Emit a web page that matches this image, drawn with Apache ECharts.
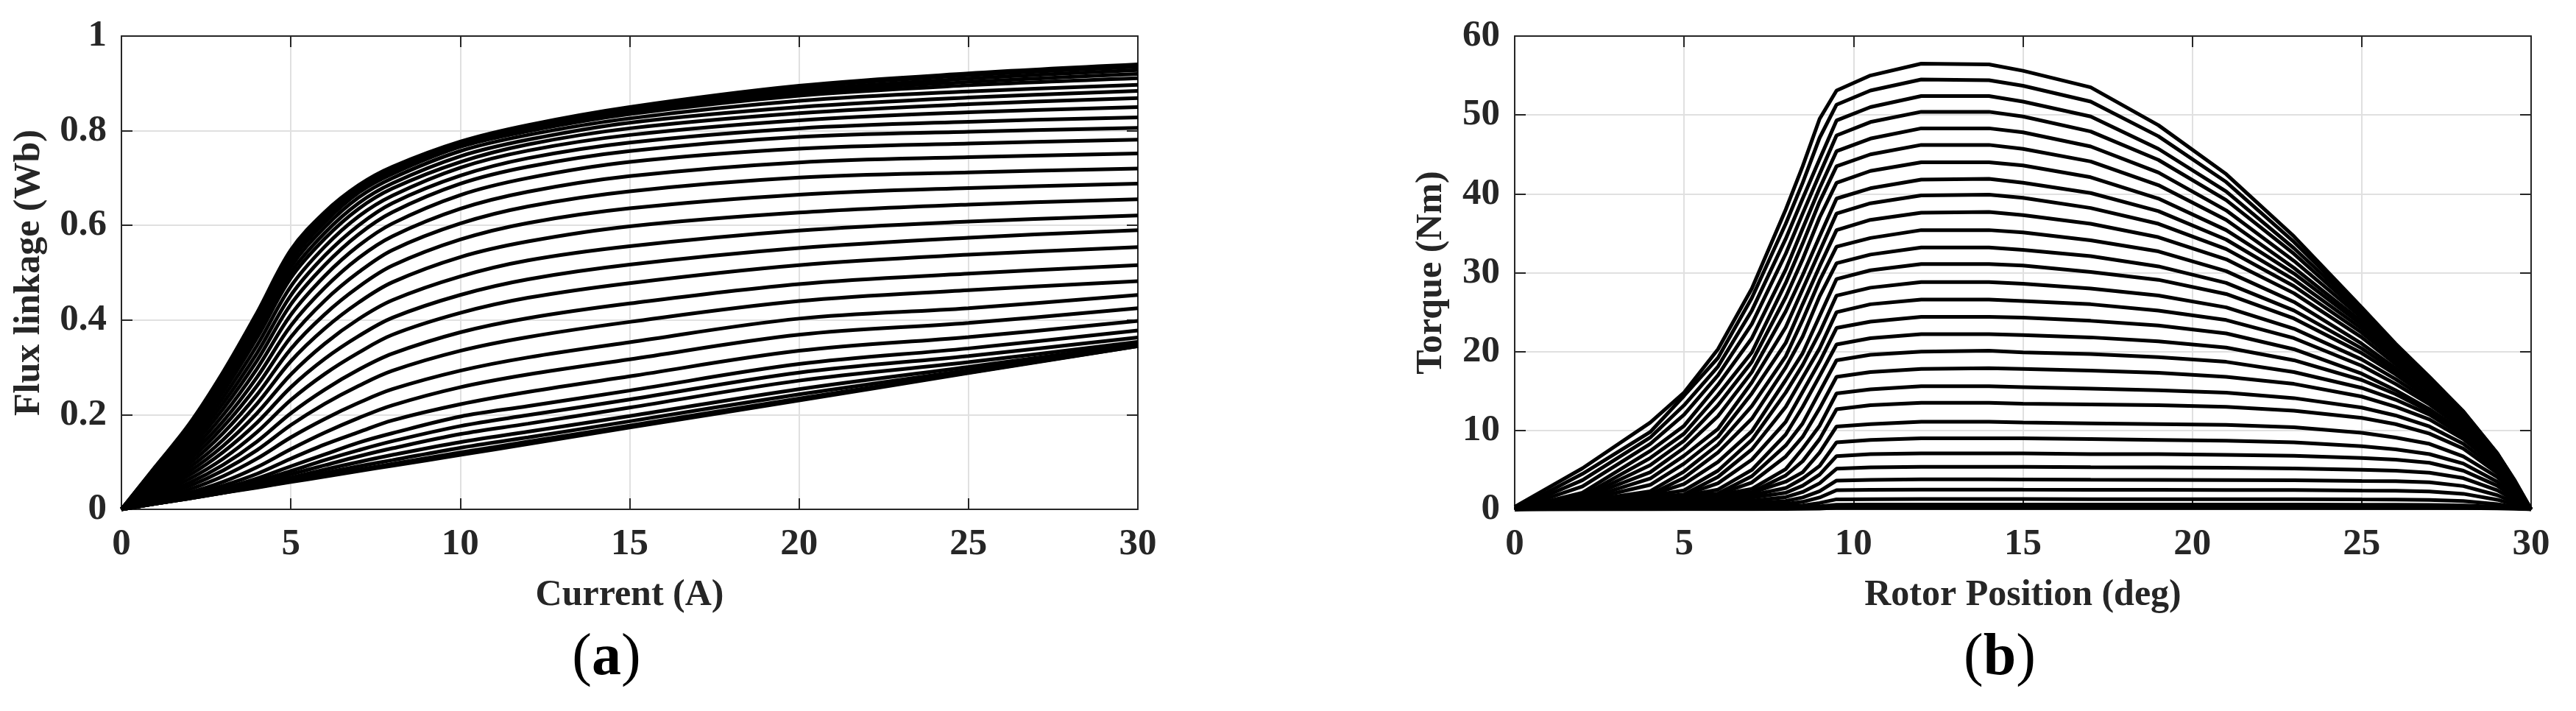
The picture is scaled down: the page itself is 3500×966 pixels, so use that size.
<!DOCTYPE html>
<html><head><meta charset="utf-8">
<script src="https://cdn.jsdelivr.net/npm/echarts@6.0.0/dist/echarts.min.js"></script>
<style>html,body{margin:0;padding:0;background:#fff}#c{width:3500px;height:966px}</style>
</head><body><div id="c"></div>
<script>
// ---------- Panel (a): flux linkage vs current, one curve per rotor angle 0..30 deg ----------
const currentA = [0, 1, 2, 3, 4, 5, 6, 7, 8, 10, 12, 15, 20, 25, 30];
const rotorAnglesA = [0,1,2,3,4,5,6,7,8,9,10,11,12,13,14,15,16,17,18,19,20,21,22,23,24,25,26,27,28,29,30];
const fluxByAngle = [
  [0, .012, .023, .035, .046, .058, .069, .081, .092, .115, .138, .173, .230, .288, .345],
  [0, .012, .023, .035, .047, .059, .072, .084, .096, .120, .143, .177, .234, .289, .345],
  [0, .012, .023, .035, .049, .063, .077, .091, .104, .130, .152, .186, .243, .294, .346],
  [0, .012, .024, .037, .051, .067, .084, .100, .115, .142, .164, .197, .254, .301, .349],
  [0, .012, .024, .038, .054, .074, .093, .112, .129, .159, .181, .215, .272, .311, .354],
  [0, .013, .025, .040, .059, .081, .104, .125, .144, .176, .199, .232, .289, .324, .363],
  [0, .014, .027, .044, .065, .091, .116, .141, .161, .196, .218, .251, .307, .340, .378],
  [0, .015, .030, .050, .075, .107, .137, .163, .188, .222, .248, .281, .335, .364, .398],
  [0, .018, .035, .058, .089, .127, .162, .193, .220, .258, .285, .317, .369, .394, .425],
  [0, .021, .042, .070, .107, .152, .191, .225, .254, .293, .321, .353, .403, .425, .453],
  [0, .025, .049, .082, .125, .178, .223, .261, .293, .335, .364, .396, .440, .463, .482],
  [0, .028, .056, .094, .143, .203, .253, .295, .329, .374, .404, .435, .476, .498, .516],
  [0, .032, .064, .107, .163, .231, .286, .331, .369, .415, .447, .478, .516, .538, .554],
  [0, .036, .072, .121, .183, .258, .318, .366, .405, .453, .486, .517, .552, .574, .590],
  [0, .040, .080, .134, .203, .285, .350, .402, .442, .492, .526, .556, .589, .608, .621],
  [0, .044, .088, .147, .223, .313, .382, .437, .480, .533, .566, .598, .627, .644, .655],
  [0, .048, .096, .161, .242, .339, .412, .470, .515, .570, .605, .636, .665, .679, .688],
  [0, .052, .104, .174, .261, .364, .441, .501, .548, .604, .640, .672, .701, .712, .720],
  [0, .056, .112, .186, .279, .388, .468, .531, .577, .635, .671, .704, .733, .744, .752],
  [0, .060, .120, .199, .297, .411, .493, .557, .604, .664, .700, .734, .762, .773, .781],
  [0, .064, .128, .212, .314, .433, .516, .581, .628, .688, .724, .757, .787, .798, .806],
  [0, .068, .136, .224, .330, .452, .536, .600, .647, .705, .742, .775, .805, .819, .828],
  [0, .072, .144, .236, .346, .471, .555, .619, .663, .722, .758, .791, .822, .839, .850],
  [0, .076, .152, .248, .362, .489, .572, .635, .678, .734, .771, .805, .837, .856, .869],
  [0, .078, .156, .254, .370, .500, .584, .647, .689, .746, .781, .817, .850, .870, .884],
  [0, .081, .161, .262, .380, .512, .596, .659, .700, .757, .791, .826, .863, .883, .897],
  [0, .083, .166, .270, .390, .523, .606, .669, .709, .766, .799, .835, .874, .896, .911],
  [0, .085, .170, .275, .397, .530, .613, .675, .713, .769, .802, .838, .879, .903, .920],
  [0, .087, .174, .281, .404, .538, .619, .680, .717, .772, .805, .842, .885, .910, .928],
  [0, .089, .177, .286, .409, .544, .623, .682, .720, .774, .808, .846, .891, .917, .935],
  [0, .090, .180, .290, .415, .548, .628, .685, .724, .777, .812, .850, .895, .921, .940]
];

// ---------- Panel (b): torque vs rotor position, one curve per current 1..30 A ----------
const positionDeg = [0, 2, 4, 5, 6, 7, 8, 8.5, 9, 9.5, 10.5, 12, 14, 15, 17, 19, 21, 23, 25, 26, 27, 28, 29, 29.5, 30];
const currentsB = [1,2,3,4,5,6,7,8,9,10,11,12,13,14,15,16,17,18,19,20,21,22,23,24,25,26,27,28,29,30];
const torqueByCurrent = [
  [0, 0.01, 0.01, 0.02, 0.02, 0.03, 0.04, 0.06, 0.1, 0.2, 0.2, 0.2, 0.2, 0.2, 0.2, 0.2, 0.2, 0.2, 0.19, 0.19, 0.19, 0.17, 0.11, 0.06, 0],
  [0, 0.02, 0.05, 0.07, 0.09, 0.12, 0.17, 0.23, 0.37, 0.59, 0.6, 0.6, 0.6, 0.6, 0.6, 0.6, 0.6, 0.6, 0.58, 0.58, 0.57, 0.5, 0.32, 0.17, 0],
  [0, 0.05, 0.11, 0.15, 0.2, 0.28, 0.38, 0.5, 0.8, 1.27, 1.29, 1.3, 1.3, 1.3, 1.29, 1.29, 1.29, 1.28, 1.25, 1.24, 1.2, 1.04, 0.66, 0.34, 0],
  [0, 0.09, 0.2, 0.26, 0.36, 0.5, 0.68, 0.95, 1.5, 2.42, 2.47, 2.5, 2.5, 2.49, 2.48, 2.47, 2.46, 2.44, 2.38, 2.36, 2.27, 1.97, 1.22, 0.62, 0],
  [0, 0.14, 0.31, 0.41, 0.56, 0.77, 1.06, 1.5, 2.3, 3.65, 3.74, 3.8, 3.8, 3.79, 3.76, 3.74, 3.72, 3.69, 3.6, 3.56, 3.42, 2.95, 1.8, 0.9, 0],
  [0, 0.21, 0.44, 0.59, 0.81, 1.1, 1.55, 2.2, 3.3, 5.15, 5.31, 5.4, 5.4, 5.38, 5.34, 5.31, 5.27, 5.19, 5.02, 4.91, 4.65, 3.96, 2.41, 1.2, 0],
  [0, 0.28, 0.6, 0.81, 1.1, 1.5, 2.1, 3.0, 4.4, 6.75, 7.0, 7.1, 7.1, 7.1, 7.0, 7.0, 6.9, 6.8, 6.5, 6.3, 5.9, 4.9, 3.0, 1.5, 0],
  [0, 0.37, 0.78, 1.05, 1.44, 1.8, 2.7, 3.9, 5.5, 8.5, 8.8, 9.0, 9.0, 9.0, 8.9, 8.8, 8.7, 8.5, 8.0, 7.6, 7.0, 5.8, 3.5, 1.8, 0],
  [0, 0.5, 1.1, 1.4, 1.6, 2.1, 3.5, 4.7, 7.2, 10.5, 10.8, 11.1, 11.1, 11.0, 10.9, 10.8, 10.7, 10.4, 9.7, 9.1, 8.3, 6.7, 4.1, 2.0, 0],
  [0, 0.6, 1.1, 1.4, 1.7, 2.2, 4.3, 6.1, 8.9, 12.7, 13.2, 13.5, 13.5, 13.4, 13.3, 13.2, 13.0, 12.5, 11.6, 10.8, 9.6, 7.7, 4.6, 2.3, 0],
  [0, 0.6, 1.2, 1.5, 1.8, 2.6, 5.1, 7.7, 10.6, 14.7, 15.2, 15.6, 15.6, 15.5, 15.3, 15.1, 14.8, 14.1, 12.9, 11.9, 10.5, 8.3, 5.0, 2.5, 0],
  [0, 0.6, 1.2, 1.6, 1.9, 3.4, 6.7, 9.2, 12.8, 16.8, 17.4, 17.8, 17.9, 17.8, 17.6, 17.3, 16.8, 15.9, 14.3, 13.0, 11.4, 8.9, 5.4, 2.7, 0],
  [0, 0.7, 1.3, 1.6, 2.0, 4.2, 8.1, 10.9, 14.9, 18.9, 19.6, 20.0, 20.1, 19.9, 19.7, 19.3, 18.7, 17.4, 15.4, 13.9, 12.0, 9.3, 5.6, 2.8, 0],
  [0, 0.7, 1.4, 1.7, 2.5, 5.0, 9.5, 13.0, 16.9, 20.9, 21.7, 22.2, 22.2, 22.1, 21.8, 21.3, 20.5, 18.9, 16.4, 14.6, 12.4, 9.6, 5.8, 2.9, 0],
  [0, 0.7, 1.5, 1.8, 3.3, 6.3, 11.1, 14.9, 18.7, 23.0, 23.8, 24.4, 24.4, 24.3, 23.9, 23.3, 22.3, 20.3, 17.2, 15.1, 12.7, 9.8, 5.8, 2.9, 0],
  [0, 0.8, 1.5, 1.9, 4.1, 7.6, 13.0, 16.7, 20.4, 25.0, 26.0, 26.6, 26.6, 26.4, 26.0, 25.2, 24.0, 21.7, 18.2, 15.9, 13.3, 10.2, 6.0, 3.0, 0],
  [0, 0.8, 1.7, 2.4, 4.9, 8.8, 14.8, 18.3, 22.4, 27.1, 28.1, 28.8, 28.8, 28.6, 28.0, 27.1, 25.6, 22.9, 19.0, 16.5, 13.7, 10.5, 6.2, 3.1, 0],
  [0, 0.9, 1.8, 3.2, 6.0, 9.9, 16.4, 19.8, 24.5, 29.2, 30.3, 31.1, 31.1, 30.9, 30.1, 29.1, 27.3, 24.2, 19.8, 17.1, 14.1, 10.7, 6.3, 3.1, 0],
  [0, 1.0, 1.9, 4.0, 7.2, 11.5, 18.0, 21.9, 27.0, 31.2, 32.3, 33.2, 33.2, 32.9, 32.1, 30.8, 28.7, 25.2, 20.4, 17.5, 14.3, 10.8, 6.3, 3.1, 0],
  [0, 1.0, 2.3, 4.8, 8.2, 13.1, 19.4, 24.0, 29.0, 33.3, 34.4, 35.4, 35.4, 35.1, 34.1, 32.7, 30.2, 26.3, 21.0, 17.9, 14.5, 10.9, 6.3, 3.2, 0],
  [0, 1.1, 3.1, 5.8, 9.2, 14.7, 21.1, 26.0, 30.8, 35.4, 36.7, 37.6, 37.7, 37.3, 36.2, 34.5, 31.7, 27.4, 21.8, 18.4, 15.0, 11.2, 6.5, 3.2, 0],
  [0, 1.2, 3.9, 6.8, 10.2, 16.1, 23.1, 27.9, 32.7, 37.5, 38.8, 39.8, 39.9, 39.5, 38.2, 36.2, 33.0, 28.3, 22.4, 18.9, 15.3, 11.5, 6.6, 3.3, 0],
  [0, 1.4, 4.7, 7.8, 11.8, 17.4, 25.1, 29.7, 34.6, 39.4, 40.7, 41.8, 41.9, 41.4, 40.1, 37.8, 34.2, 29.1, 22.9, 19.2, 15.5, 11.6, 6.7, 3.4, 0],
  [0, 1.5, 5.6, 8.7, 13.2, 18.7, 26.9, 31.7, 37.0, 41.4, 42.9, 44.0, 44.0, 43.6, 42.1, 39.4, 35.4, 29.9, 23.4, 19.5, 15.8, 11.8, 6.7, 3.4, 0],
  [0, 1.7, 6.5, 9.6, 14.5, 19.9, 28.7, 33.7, 39.0, 43.5, 45.0, 46.2, 46.2, 45.7, 44.1, 41.1, 36.7, 30.6, 23.8, 19.8, 15.9, 11.9, 6.8, 3.5, 0],
  [0, 2.1, 7.4, 10.6, 15.8, 21.7, 30.4, 35.6, 40.7, 45.4, 47.0, 48.3, 48.3, 47.8, 46.0, 42.7, 37.9, 31.5, 24.3, 20.1, 16.2, 12.1, 6.9, 3.5, 0],
  [0, 2.9, 8.3, 12.0, 17.0, 23.5, 32.4, 37.5, 42.5, 47.4, 49.1, 50.4, 50.4, 49.8, 47.9, 44.3, 39.2, 32.4, 24.7, 20.4, 16.4, 12.2, 7.0, 3.6, 0],
  [0, 3.7, 9.1, 13.2, 18.1, 25.2, 34.3, 39.4, 44.4, 49.3, 51.0, 52.4, 52.4, 51.7, 49.8, 45.7, 40.3, 33.1, 25.1, 20.7, 16.6, 12.3, 7.0, 3.7, 0],
  [0, 4.5, 9.8, 14.4, 19.2, 26.8, 36.2, 41.4, 47.1, 51.3, 53.1, 54.5, 54.4, 53.7, 51.7, 47.3, 41.5, 33.9, 25.4, 20.9, 16.7, 12.4, 7.1, 3.7, 0],
  [0.3, 5.2, 11.0, 14.8, 20.3, 28.0, 38.0, 43.5, 49.5, 53.1, 55.0, 56.5, 56.4, 55.6, 53.5, 48.7, 42.5, 34.6, 25.6, 21.0, 16.8, 12.4, 7.1, 3.8, 0]
];

// ---------- Texts ----------
const titleA = 'Flux linkage (Wb)';
const xNameA = 'Current (A)';
const titleB = 'Torque (Nm)';
const xNameB = 'Rotor Position (deg)';
const panelTags = ['a', 'b'];

const FONT = 'Liberation Serif';
const INK = '#262626';
const labelStyle = { fontSize: 51, fontWeight: 'bold', fontFamily: FONT, color: INK };
const nameStyle = { fontSize: 50, fontWeight: 'bold', fontFamily: FONT, color: INK };
const lineCol = { color: INK, width: 2 };

function mainX(grid, name) {
  return { gridIndex: grid, type: 'value', min: 0, max: 30, interval: 5, position: 'bottom',
    axisLine: { show: true, onZero: false, lineStyle: lineCol },
    axisTick: { show: true, inside: true, length: 15, lineStyle: lineCol },
    axisLabel: Object.assign({ margin: 22, showMinLabel: true, showMaxLabel: true }, labelStyle),
    splitLine: { show: true, lineStyle: { color: '#e0e0e0', width: 2 } },
    name: name, nameLocation: 'middle', nameGap: 92, nameTextStyle: nameStyle };
}
function mirrorX(grid) {
  return { gridIndex: grid, type: 'value', min: 0, max: 30, interval: 5, position: 'top',
    axisLine: { show: true, onZero: false, lineStyle: lineCol },
    axisTick: { show: true, inside: true, length: 15, lineStyle: lineCol },
    axisLabel: { show: false }, splitLine: { show: false } };
}
function mainY(grid, max, interval, name, gap) {
  return { gridIndex: grid, type: 'value', min: 0, max: max, interval: interval, position: 'left',
    axisLine: { show: true, onZero: false, lineStyle: lineCol },
    axisTick: { show: true, inside: true, length: 15, lineStyle: lineCol },
    axisLabel: Object.assign({ margin: 20, showMinLabel: true, showMaxLabel: true }, labelStyle),
    splitLine: { show: true, lineStyle: { color: '#e0e0e0', width: 2 } },
    name: name, nameLocation: 'middle', nameGap: gap, nameTextStyle: nameStyle };
}
function mirrorY(grid, max, interval) {
  return { gridIndex: grid, type: 'value', min: 0, max: max, interval: interval, position: 'right',
    axisLine: { show: true, onZero: false, lineStyle: lineCol },
    axisTick: { show: true, inside: true, length: 15, lineStyle: lineCol },
    axisLabel: { show: false }, splitLine: { show: false } };
}

const series = [];
fluxByAngle.forEach((row, k) => {
  series.push({ type: 'line', name: 'theta ' + rotorAnglesA[k], xAxisIndex: 0, yAxisIndex: 0,
    data: currentA.map((x, j) => [x, row[j]]), showSymbol: false, symbol: 'none',
    smooth: 0.35, silent: true, z: 3,
    lineStyle: { color: '#000', width: 5 } });
});
torqueByCurrent.forEach((row, k) => {
  series.push({ type: 'line', name: 'i ' + currentsB[k], xAxisIndex: 2, yAxisIndex: 2,
    data: positionDeg.map((x, j) => [x, row[j]]), showSymbol: false, symbol: 'none',
    smooth: false, silent: true, z: 3,
    lineStyle: { color: '#000', width: 5 } });
});

function tag(letter, cx) {
  return { type: 'text', x: cx, y: 895, z: 10,
    style: { text: '{p|(}{b|' + letter + '}{p|)}', align: 'center', verticalAlign: 'middle',
      rich: { p: { fontSize: 80, fontFamily: FONT, color: '#000' },
              b: { fontSize: 80, fontFamily: FONT, fontWeight: 'bold', color: '#000' } } } };
}

const chart = echarts.init(document.getElementById('c'), null, { renderer: 'canvas' });
chart.setOption({
  animation: false,
  backgroundColor: '#fff',
  grid: [
    { left: 165, top: 49, width: 1381, height: 643, containLabel: false },
    { left: 2058, top: 49, width: 1381, height: 643, containLabel: false }
  ],
  xAxis: [mainX(0, xNameA), mirrorX(0), mainX(1, xNameB), mirrorX(1)],
  yAxis: [mainY(0, 1, 0.2, titleA, 100), mirrorY(0, 1, 0.2), mainY(1, 60, 10, titleB, 88), mirrorY(1, 60, 10)],
  graphic: [tag(panelTags[0], 824), tag(panelTags[1], 2717)],
  series: series
});
</script></body></html>
